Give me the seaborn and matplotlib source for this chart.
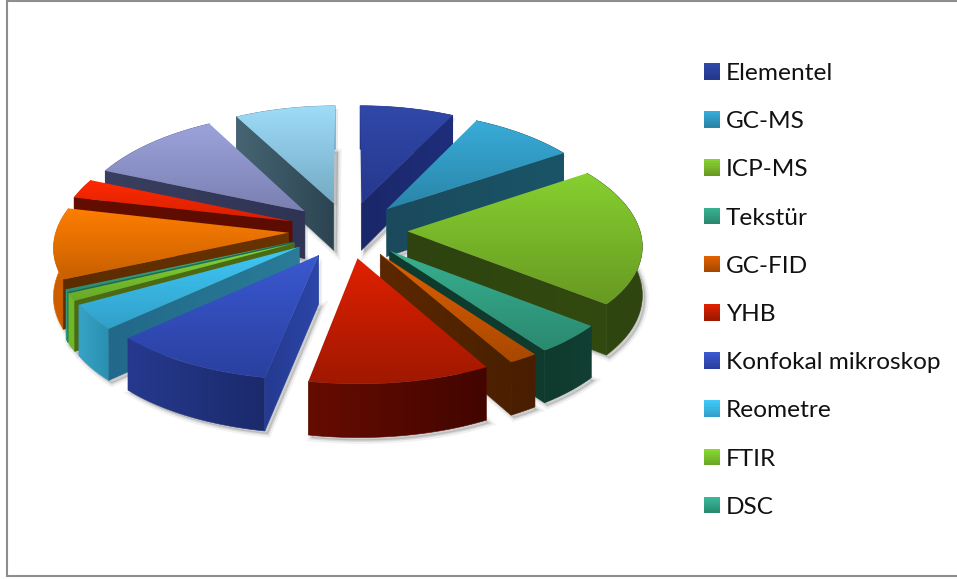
import numpy as np
import seaborn as sns
import matplotlib.pyplot as plt
from matplotlib.legend_handler import HandlerBase
from matplotlib.patches import Patch, Polygon, Rectangle

sns.set_theme(style='white')
plt.rcParams['font.family'] = ['Lato', 'DejaVu Sans']

# share of each slice, clockwise from 12 o'clock (the legend only lists the first ten)
values = [7.4, 8.3, 20.1, 4.4, 1.8, 11.0, 10.0, 3.8, 1.1, 0.4, 10.3, 2.8, 10.7, 7.9]
legend_labels = ['Elementel', 'GC-MS', 'ICP-MS', 'Tekstür', 'GC-FID', 'YHB',
                 'Konfokal mikroskop', 'Reometre', 'FTIR', 'DSC']

top_light = ['#3048a8', '#38acd8', '#86d030', '#38b090', '#e06000', '#e02000', '#3a58d0',
             '#40c8f8', '#88d830', '#38b898', '#ff7f00', '#ff2a00', '#9ca3dc', '#9edcf8']
top_dark = ['#26388e', '#2a85a8', '#689a22', '#2a8a70', '#a84800', '#a01800', '#2a40a0',
            '#30a0c8', '#68a828', '#2a8a70', '#c85f00', '#d82000', '#7a80b0', '#74aac4']
outer_start = ['#1c2b78', '#1a5468', '#35500f', '#123f33', '#4a1e00', '#420500', '#1b2a6b',
               '#2a8fb0', '#6fb828', '#2f9a80', '#cc5e00', '#c81c00', '#5a5f90', '#5a8aa0']
outer_end = ['#1c2b78', '#1a5468', '#2f4510', '#0f3a2e', '#4a1e00', '#660c00', '#26398e',
             '#37a3c6', '#6fb828', '#2f9a80', '#e87000', '#c81c00', '#5a5f90', '#5a8aa0']
cut_apex = ['#1a2768', '#1a4a5c', '#2e430f', '#103c30', '#5c2800', '#420500', '#2c46a8',
            '#2a7c98', '#4c6a14', '#1d6a58', '#6a3300', '#5c0c00', '#2f3354', '#2c4452']
cut_outer = ['#1f2e7c', '#1a5468', '#324a10', '#0f3a2e', '#4a2000', '#420500', '#253a90',
             '#22688a', '#4c6a14', '#1d6a58', '#5c2c00', '#640c00', '#3a3f60', '#466472']

# view of the pie, in figure pixels
CX, CY = 348, 230
RX, RY = 232.5, 110
PERSP_X = 0.11
PERSP_Y = 0.084
DEPTH = 48
RADIUS = 1.0
EXPLODE = 0.255


def top_bottom(x, y):
    s = 1 + PERSP_Y * y
    sx = CX + RX * x / (1 + PERSP_X * y)
    sy = CY - RY * y / s
    return np.column_stack([sx, sy]), np.column_stack([sx, sy + DEPTH / s])


def gradient_poly(ax, outline, grid, extent, c0, c1, z):
    # fill a polygon with a blend, clipped image keeps the seams away
    cmap = sns.blend_palette([c0, c1], as_cmap=True)
    img = ax.imshow(grid, cmap=cmap, vmin=0, vmax=1, aspect='auto', extent=extent,
                    interpolation='bilinear', zorder=z)
    clip = Polygon(outline, closed=True, transform=ax.transData, fc='none', ec='none')
    ax.add_patch(clip)
    img.set_clip_path(clip)


def face(ax, top, bottom, c0, c1, z):
    outline = np.vstack([top, bottom[::-1]])
    x_from, x_to = top[0, 0], top[-1, 0]
    if abs(x_to - x_from) < 1:
        x_to = x_from + 1
    # blend runs from the first to the last point of the face, flat past those
    x0, x1 = outline[:, 0].min() - 1, outline[:, 0].max() + 1
    ramp = np.clip((np.linspace(x0, x1, 128) - x_from) / (x_to - x_from), 0, 1)[None, :]
    ext = [x0, x1, outline[:, 1].max() + 1, outline[:, 1].min() - 1]
    gradient_poly(ax, outline, ramp, ext, c0, c1, z)
    ax.fill(outline[:, 0], outline[:, 1], fc='none', ec=sns.blend_palette([c0, c1], 3)[1], lw=0.4, zorder=z)


class GradientSwatch(HandlerBase):
    def create_artists(self, legend, orig, xd, yd, w, h, fontsize, trans):
        cols = sns.blend_palette([orig.get_facecolor(), orig.get_edgecolor()], 8)
        return [Rectangle((-xd, -yd + h * (7 - i) / 8), w, h / 8 + 0.2, fc=c, ec='none', transform=trans)
                for i, c in enumerate(cols)]


fig = plt.figure(figsize=(9.57, 5.79), dpi=100)
ax = fig.add_axes([0, 0, 1, 1])

edges = np.concatenate([[0], np.cumsum(values)]) / np.sum(values) * 360
slices = []
for i in range(len(values)):
    a0, a1 = edges[i], edges[i + 1]
    mid = np.radians((a0 + a1) / 2)
    ex, ey = EXPLODE * np.sin(mid), EXPLODE * np.cos(mid)
    ang = np.radians(np.linspace(a0, a1, 40))
    arc_top, arc_bot = top_bottom(ex + RADIUS * np.sin(ang), ey + RADIUS * np.cos(ang))
    apex_top, apex_bot = top_bottom(np.array([ex]), np.array([ey]))
    slices.append(dict(i=i, a0=a0, a1=a1, arc_top=arc_top, arc_bot=arc_bot,
                       apex_top=apex_top, apex_bot=apex_bot,
                       depth=np.vstack([arc_top, apex_top])[:, 1].mean()))

# soft shadow under everything
for s in slices:
    base = np.vstack([s['apex_bot'], s['arc_bot']])
    for off, lw, alpha in [(3, 5, 0.08), (3, 2, 0.15)]:
        ax.add_patch(Polygon(base + off, closed=True, fc='#555555', ec='#555555', lw=lw, alpha=alpha, zorder=1))
    wall = np.vstack([s['apex_top'], s['arc_top'][[0, -1]], s['apex_bot']])
    ax.add_patch(Polygon(wall + 3, closed=True, fc='#555555', ec='none', alpha=0.12, zorder=1))

z = 2
for s in sorted(slices, key=lambda d: d['depth']):
    i = s['i']
    face(ax, s['arc_top'], s['arc_bot'], outer_start[i], outer_end[i], z)
    z += 1
    # cut faces turned towards the viewer
    for end, normal in [(0, s['a0'] - 90), (-1, s['a1'] + 90)]:
        if np.cos(np.radians(normal)) < -0.01:
            face_top = np.vstack([s['apex_top'], s['arc_top'][end]])
            face_bot = np.vstack([s['apex_bot'], s['arc_bot'][end]])
            face(ax, face_top, face_bot, cut_apex[i], cut_outer[i], z)
            z += 1
    outline = np.vstack([s['apex_top'], s['arc_top']])
    ext = [outline[:, 0].min(), outline[:, 0].max(), outline[:, 1].max(), outline[:, 1].min()]
    gradient_poly(ax, outline, np.linspace(0, 1, 64)[:, None], ext, top_light[i], top_dark[i], z)
    z += 1

ax.set_xlim(0, 957)
ax.set_ylim(579, 0)
ax.axis('off')

# chart frame, open on the right where the picture was cropped
ax.plot([957, 6.5, 6.5, 957], [0.8, 0.8, 576, 576], color='#8e8e8e', lw=1.5, zorder=z,
        solid_joinstyle='miter')

handles = [Patch(facecolor=top_light[i], edgecolor=top_dark[i]) for i in range(len(legend_labels))]
leg = ax.legend(handles, legend_labels, loc='upper left', bbox_to_anchor=(704 / 957, 1 - 63 / 579),
                frameon=False, fontsize=17.6, handlelength=0.655, handleheight=0.655, handletextpad=0.25,
                labelspacing=1.113, borderpad=0, borderaxespad=0, labelcolor='#111111',
                handler_map={Patch: GradientSwatch()})
leg.set_zorder(z)

fig.savefig('out.png', dpi=100)
